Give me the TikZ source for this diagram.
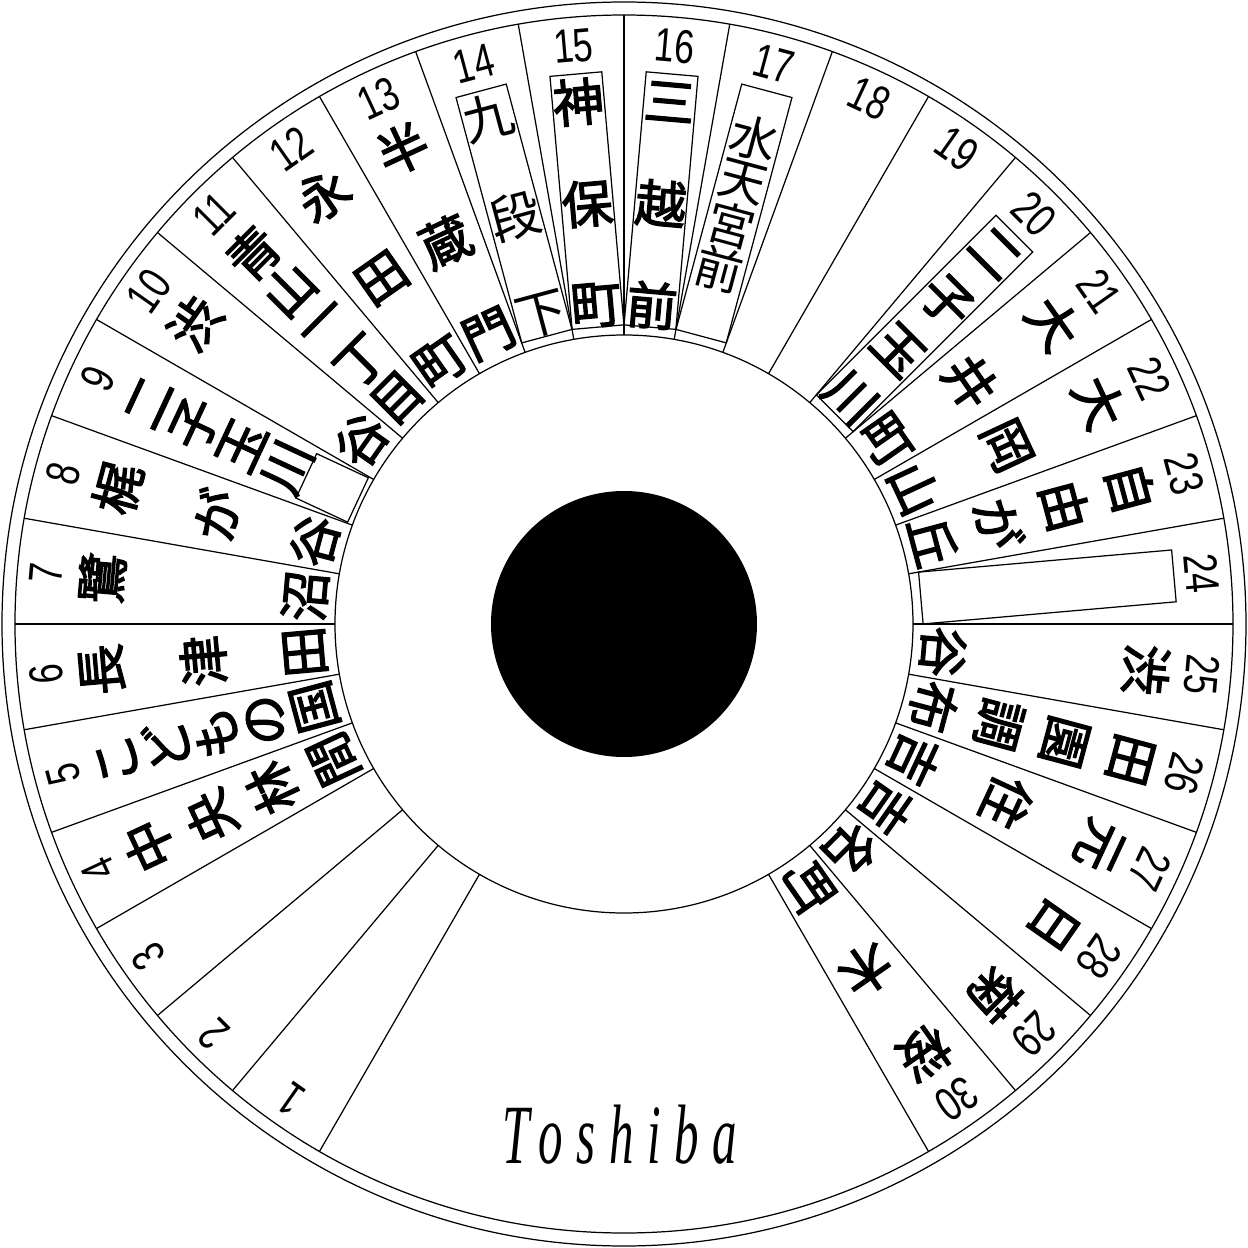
\documentclass[tikz,border=0pt]{standalone}
\usepackage{fontspec}
\newfontfamily\jpfont{Noto Sans CJK JP}[FakeBold=2.5]
\newfontfamily\jplight{Noto Sans CJK JP}
\newfontfamily\numfont{Liberation Sans}[FakeStretch=0.75]
\newfontfamily\logofont{Liberation Serif}[FakeStretch=0.58,LetterSpace=16]

\begin{document}
\begin{tikzpicture}[
    x=0.1mm, y=0.1mm, % one unit = one pixel of the sign
    rim/.style={line width=0.35pt},
    kanji/.style={inner sep=0pt, font=\jpfont\fontsize{14.5pt}{14.5pt}\selectfont},
    kanjilight/.style={inner sep=0pt, font=\jplight\fontsize{14.5pt}{14.5pt}\selectfont},
    num/.style={inner sep=0pt, font=\numfont\fontsize{13.5pt}{13.5pt}\selectfont},
    namebox/.style={
        draw,
        rim,
        inner sep=0pt,
        minimum width=5.2mm,
        minimum height=25.4mm
    }
]
    \useasboundingbox (-624,-624) rectangle (624,624);

    % --- Rings and hub ---
    \draw[rim] (0,0) circle (622);
    \draw[rim] (0,0) circle (609);
    \draw[rim] (0,0) circle (289);
    \fill (0,0) circle (133);

    % --- Sector borders, 10 degrees each ---
    \foreach \k in {0,...,30} {
        \pgfmathsetmacro\ang{240-10*\k}
        \draw[rim] (\ang:289) -- (\ang:609);
    }

    % --- Sector numbers ---
    \foreach \k in {1,...,30} {
        \pgfmathsetmacro\ang{245-10*\k}
        \node[num, rotate=\ang-90] (num\k) at (\ang:580) {\k};
    }

    % --- Boxes ---
    \foreach \k in {14,15,16,17,20,24} {
        \pgfmathsetmacro\ang{245-10*\k}
        \node[namebox, rotate=\ang-90] (box\k) at (\ang:425) {};
    }
    \node[namebox, minimum width=4.9mm, minimum height=5.7mm, rotate=65] (box9) at (155:322) {};

    % --- Station names, spread from rim to hub ---
    \foreach \k/\cnt/\names in {
        4/4/{中,央,林,間}, 5/5/{こ,ど,も,の,国}, 6/3/{長,津,田}, 7/2/{鷺,沼},
        8/3/{梶,が,谷}, 9/5/{二,子,玉,川}, 10/2/{渋,谷}, 11/5/{青,山,一,丁,目},
        12/3/{永,田,町}, 13/3/{半,蔵,門}, 15/3/{神,保,町}, 16/3/{三,越,前},
        20/4/{二,子,玉,川}, 21/3/{大,井,町}, 22/3/{大,岡,山}, 23/4/{自,由,が,丘},
        25/2/{渋,谷}, 26/4/{田,園,調,布}, 27/3/{元,住,吉}, 28/2/{日,吉},
        29/2/{菊,名}, 30/3/{桜,木,町}} {
        \pgfmathsetmacro\ang{245-10*\k}
        \foreach \ch [count=\i] in \names {
            \pgfmathsetmacro\rad{524-(\i-1)*204/(\cnt-1)}
            \node[kanji, rotate=\ang-90] (st\k-\i) at (\ang:\rad) {\ch};
        }
    }

    % --- Thin lettering ---
    \foreach \ch [count=\i] in {九,段,下} {
        \pgfmathsetmacro\rad{524-(\i-1)*102}
        \node[kanjilight, rotate=15] (st14-\i) at (105:\rad) {\ch};
    }
    \foreach \ch [count=\i] in {水,天,宮,前} {
        \pgfmathsetmacro\rad{503-(\i-1)*45}
        \node[kanjilight, font=\jplight\fontsize{13.5pt}{13.5pt}\selectfont, rotate=-15] (st17-\i) at (75:\rad) {\ch};
    }

    % --- Maker mark ---
    \node[inner sep=0pt, anchor=base west, font=\logofont\itshape\fontsize{24pt}{24pt}\selectfont] (logo) at (-122,-539) {Toshiba};
\end{tikzpicture}
\end{document}
